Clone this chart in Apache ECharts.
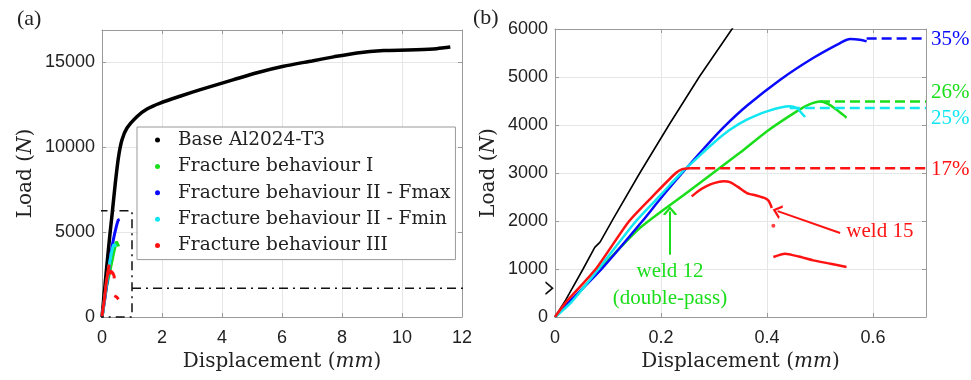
<!DOCTYPE html>
<html>
<head>
<meta charset="utf-8">
<script src="https://cdn.jsdelivr.net/npm/echarts@6/dist/echarts.min.js"></script>
<style>
  html, body { margin: 0; padding: 0; background: #fff; }
  #main { width: 971px; height: 380px; }
</style>
</head>
<body>
<div id="main"></div>
<script>
// values: [displacement mm, load N]
const baseCurve = [[0,0],[0.02,350],[0.053,1000],[0.075,1450],[0.085,1560],[0.11,2050],[0.16,3000],[0.215,4000],
  [0.272,5000],[0.334,6000],[0.443,7876],[0.553,9450],[0.667,10435],[0.833,11126],[1.17,11811],[1.5,12250],
  [1.94,12600],[2.6,13000],[3.28,13388],[4.39,13979],[5.2,14400],[6.05,14764],[7.0,15080],[7.72,15319],
  [8.5,15550],[9.39,15690],[10.2,15720],[11.05,15780],[11.4,15850],[11.61,15900]];
const fb1Curve = [[0,0],[0.03,320],[0.085,1000],[0.16,1854],[0.25,2600],[0.35,3430],[0.4,3870],[0.456,4284],
  [0.48,4430],[0.5,4490],[0.515,4440],[0.53,4330],[0.545,4200],[0.55,4150]];
const fb2MaxCurve = [[0,0],[0.03,350],[0.088,1000],[0.165,2000],[0.2,2480],[0.24,3000],[0.28,3500],[0.318,3950],
  [0.362,4400],[0.425,4944],[0.487,5396],[0.538,5708],[0.557,5792],[0.575,5778],[0.588,5743]];
const fb2MinCurve = [[0,0],[0.03,300],[0.082,1000],[0.153,2000],[0.2,2550],[0.238,3000],[0.27,3330],[0.299,3625],
  [0.33,3900],[0.362,4110],[0.4,4285],[0.443,4389],[0.456,4354],[0.465,4250],[0.472,4167]];
const fb3Curve = [[0,0],[0.02,300],[0.077,1000],[0.14,2000],[0.19,2580],[0.228,3000],[0.24,3080],[0.255,3100]];
const fb3After = [[0.258,2513],[0.27,2620],[0.285,2720],[0.3,2790],[0.318,2826],[0.33,2810],[0.345,2710],
  [0.362,2583],[0.38,2530],[0.395,2480],[0.403,2420],[0.409,2271]];
const fb3Dot = [[0.412,1902]];
const fb3Tail = [[0.412,1250],[0.434,1319],[0.46,1260],[0.487,1180],[0.52,1110],[0.55,1042]];

// max load levels (dashed) and their labels
const levelStart = [0.588, 0.5, 0.443, 0.255];
const levelLoad = [5800, 4490, 4354, 3100];
const levelText = ['35%', '26%', '25%', '17%'];

// zoom box in (a) and its pointer into (b)
const zoomBox = [[-0.08,0],[-0.08,6250],[1,6250],[1,0],[-0.08,0]];
const zoomPointer = [[1,1700],[14.9,1700]];
const weld12Arrow = [[0.217,1298],[0.217,2200]];
const weld15Arrow = [[0.538,1750],[0.42,2205]];

const names = ['Base Al2024-T3', 'Fracture behaviour I', 'Fracture behaviour II - Fmax',
  'Fracture behaviour II - Fmin', 'Fracture behaviour III'];
const colors = ['#000000', '#1ade1a', '#0a0aff', '#12e6f0', '#ff1212'];
const levelColors = [colors[2], colors[1], colors[3], colors[4]];
const levelOffset = [[0, 1], [0, -9], [0, 10], [0, 1]];
const X_MAX_B = 0.7;

const SANS = 'Liberation Sans';
const SERIF = 'DejaVu Serif';
const TIMES = 'Liberation Serif';
const FRAME = '#9a9a9a';

function mainAxis(grid, min, max, interval, pos, title, gap) {
  return {
    type: 'value', gridIndex: grid, min: min, max: max, interval: interval, position: pos,
    axisLine: { show: true, onZero: false, lineStyle: { color: FRAME, width: 1 } },
    axisTick: { show: true, inside: true, length: 4, lineStyle: { color: FRAME } },
    axisLabel: { show: true, showMaxLabel: max % interval === 0, fontFamily: SANS, fontSize: 18,
      color: '#222', margin: pos === 'bottom' ? 12 : 7, formatter: v => String(v) },
    splitLine: { show: true, lineStyle: { color: '#e6e6e6', width: 1 } },
    name: '{t|' + title[0] + '}{i|' + title[1] + '}{t|)}',
    nameLocation: 'middle', nameGap: gap,
    nameTextStyle: { rich: {
      t: { fontFamily: SERIF, fontSize: 20, color: '#222' },
      i: { fontFamily: SERIF, fontSize: 20, fontStyle: 'italic', color: '#222' }
    } }
  };
}
function boxAxis(grid, min, max, interval, pos) {
  return {
    type: 'value', gridIndex: grid, min: min, max: max, interval: interval, position: pos,
    axisLine: { show: true, onZero: false, lineStyle: { color: FRAME, width: 1 } },
    axisTick: { show: true, inside: true, length: 4, lineStyle: { color: FRAME } },
    axisLabel: { show: false }, splitLine: { show: false }
  };
}

function curve(name, data, color, width, ax, smooth) {
  return {
    type: 'line', name: name, data: data, xAxisIndex: ax, yAxisIndex: ax,
    showSymbol: false, symbol: 'none', animation: false,
    smooth: smooth || false,
    lineStyle: { color: color, width: width }, itemStyle: { color: color }
  };
}

function arrowSeries(data, color, width, rotate, ax, type, size) {
  const last = data.length - 1;
  return {
    type: 'line', xAxisIndex: ax, yAxisIndex: ax, clip: false, animation: false,
    showSymbol: true, symbol: 'none',
    lineStyle: { color: color, width: width, type: type || 'solid' },
    itemStyle: { color: color },
    data: data.map((p, i) => i === last ? {
      value: p, symbol: 'path://M0,0L10,5L0,10', symbolSize: size || [7, 12], symbolRotate: rotate,
      itemStyle: { color: 'rgba(0,0,0,0)', borderColor: color, borderWidth: width }
    } : p)
  };
}

const series = [];
// panel (a)
series.push(curve(names[0], baseCurve, colors[0], 3.5, 0, 0.25));
series.push(curve(names[1], fb1Curve, colors[1], 3, 0));
series.push(curve(names[2], fb2MaxCurve, colors[2], 3, 0));
series.push(curve(names[3], fb2MinCurve, colors[3], 3, 0));
series.push(curve(names[4], fb3Curve, colors[4], 3, 0));
series.push(curve(names[4], fb3After, colors[4], 3, 0));
series.push(curve(names[4], fb3Tail, colors[4], 3, 0));
series.push({
  type: 'line', xAxisIndex: 0, yAxisIndex: 0, data: zoomBox, clip: false, showSymbol: false, symbol: 'none',
  animation: false, lineStyle: { color: '#111', width: 1.5, type: [9, 5, 2, 5] }
});
series.push(arrowSeries(zoomPointer, '#111', 1.5, 0, 0, [9, 5, 2, 5], [7, 12]));

// panel (b)
series.push(curve(names[0], baseCurve, colors[0], 1.6, 1));
series.push(curve(names[1], fb1Curve, colors[1], 2.5, 1, 0.2));
series.push(curve(names[2], fb2MaxCurve, colors[2], 2.5, 1, 0.3));
series.push(curve(names[3], fb2MinCurve, colors[3], 2.5, 1, 0.25));
series.push(curve(names[4], fb3Curve, colors[4], 2.5, 1, 0.2));
series.push(curve(names[4], fb3After, colors[4], 2.5, 1, 0.25));
series.push(curve(names[4], fb3Tail, colors[4], 2.5, 1, 0.2));
series.push({
  type: 'scatter', name: names[4], xAxisIndex: 1, yAxisIndex: 1, data: fb3Dot, symbolSize: 4,
  itemStyle: { color: colors[4] }, animation: false
});
levelLoad.forEach((v, i) => {
  series.push({
    type: 'line', xAxisIndex: 1, yAxisIndex: 1, showSymbol: false, symbol: 'none', animation: false,
    data: [[levelStart[i], v], [X_MAX_B, v]],
    lineStyle: { color: levelColors[i], width: 2.5, type: [10, 5] },
    itemStyle: { color: levelColors[i] },
    endLabel: { show: true, formatter: levelText[i], distance: 5, offset: levelOffset[i],
      fontFamily: TIMES, fontSize: 21, color: levelColors[i] }
  });
});

const w12 = arrowSeries(weld12Arrow, colors[1], 2, 90, 1);
w12.markPoint = {
  symbol: 'circle', symbolSize: 0, animation: false,
  data: [{ coord: [0.217, 670] }],
  label: { show: true, position: 'inside', formatter: 'weld 12\n(double-pass)', fontFamily: TIMES,
    fontSize: 21, lineHeight: 27, color: colors[1] }
};
series.push(w12);
const w15 = arrowSeries(weld15Arrow, colors[4], 2, 162, 1);
w15.markPoint = {
  symbol: 'circle', symbolSize: 0, animation: false,
  data: [{ coord: [0.613, 1783] }],
  label: { show: true, position: 'inside', formatter: 'weld 15', fontFamily: TIMES,
    fontSize: 21, color: colors[4] }
};
series.push(w15);

const chart = echarts.init(document.getElementById('main'), null, { renderer: 'canvas' });
chart.setOption({
  animation: false,
  backgroundColor: '#fff',
  grid: [
    { left: 102, top: 30, width: 360, height: 287 },
    { left: 555, top: 29, width: 371, height: 288 }
  ],
  xAxis: [
    mainAxis(0, 0, 12, 2, 'bottom', ['Displacement (', 'mm'], 33),
    mainAxis(1, 0, X_MAX_B, 0.2, 'bottom', ['Displacement (', 'mm'], 33),
    boxAxis(0, 0, 12, 2, 'top'),
    boxAxis(1, 0, X_MAX_B, 0.2, 'top')
  ],
  yAxis: [
    mainAxis(0, 0, 16900, 5000, 'left', ['Load (', 'N'], 66),
    mainAxis(1, 0, 6000, 1000, 'left', ['Load (', 'N'], 56),
    boxAxis(0, 0, 16900, 5000, 'right'),
    boxAxis(1, 0, 6000, 1000, 'right')
  ],
  legend: {
    data: names.map(n => ({ name: n, icon: 'circle' })),
    orient: 'vertical', left: 137, top: 127,
    itemWidth: 5, itemHeight: 5, itemGap: 6.4,
    padding: [3, 5, 4, 18],
    backgroundColor: '#fff', borderColor: '#999', borderWidth: 1, borderRadius: 0,
    selectedMode: false,
    textStyle: { fontFamily: SERIF, fontSize: 18.5, color: '#222', lineHeight: 20, padding: [0, 0, 0, 13] }
  },
  graphic: [
    { type: 'text', left: 17, top: 8, style: { text: '(a)', font: '22px "Liberation Serif"', fill: '#222' } },
    { type: 'text', left: 473, top: 7, style: { text: '(b)', font: '22px "Liberation Serif"', fill: '#222' } }
  ],
  series: series
});
</script>
</body>
</html>
